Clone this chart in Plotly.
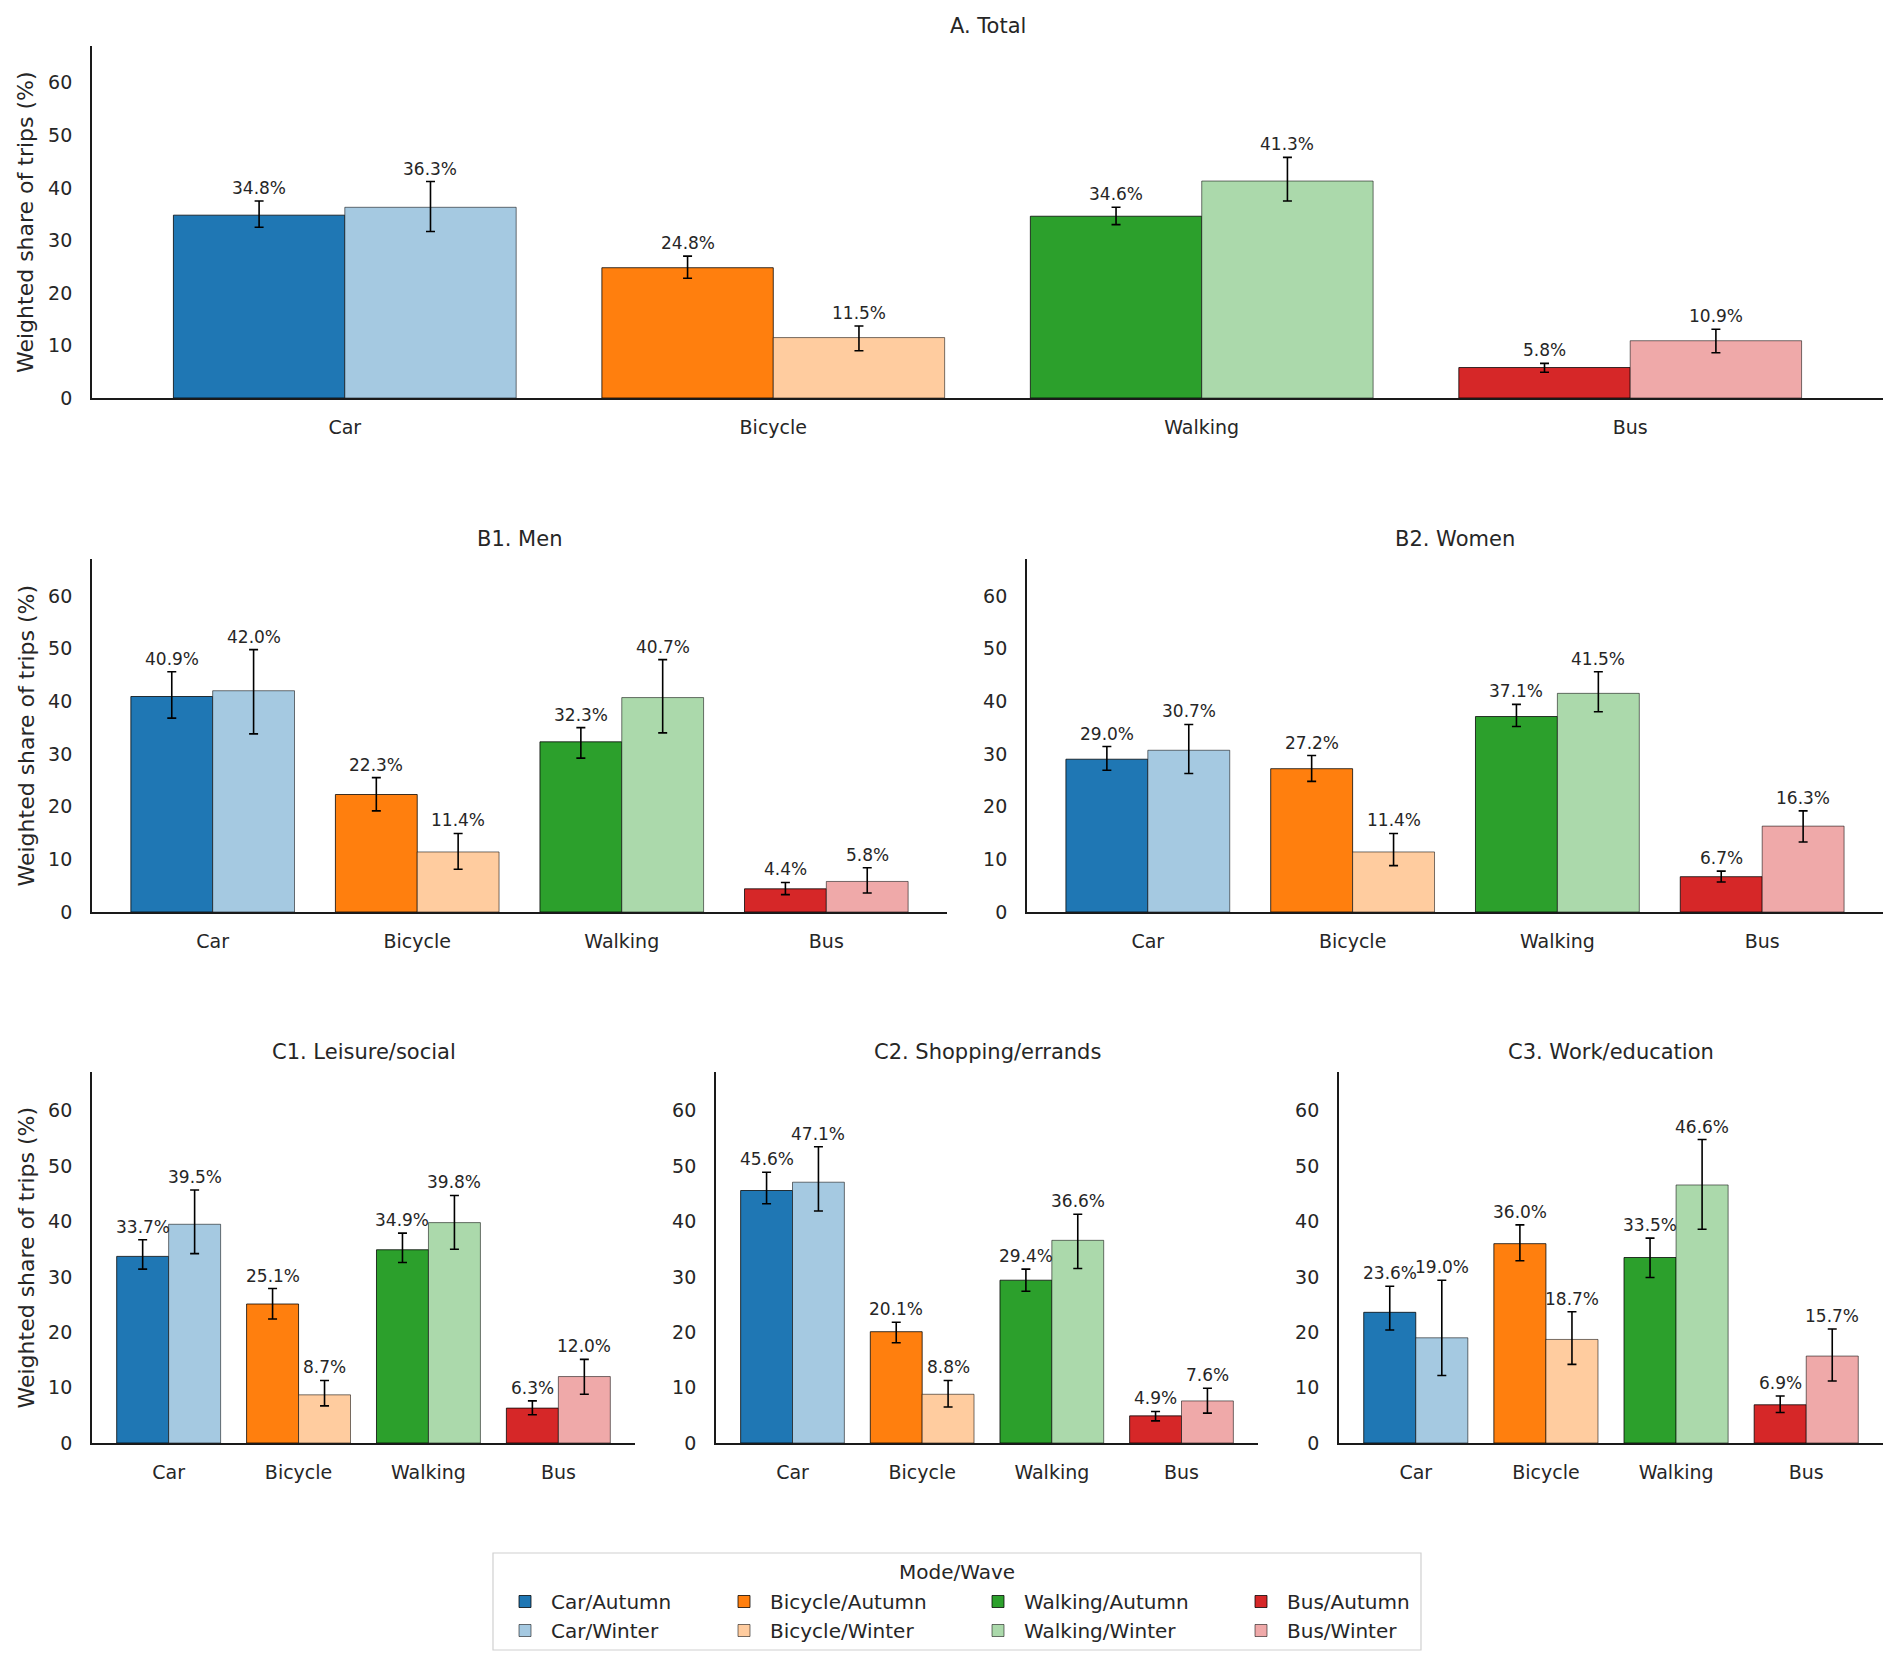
import plotly.graph_objects as go

# ---------------- data ----------------
MODES = ["Car", "Bicycle", "Walking", "Bus"]
WAVES = ["Autumn", "Winter"]
Y_TICKS = [0, 10, 20, 30, 40, 50, 60]
PANEL_TITLES = ["A. Total", "B1. Men", "B2. Women",
                "C1. Leisure/social", "C2. Shopping/errands", "C3. Work/education"]
Y_TITLE = "Weighted share of trips (%)"
LEGEND_TITLE = "Mode/Wave"

TOTAL_AUTUMN = [34.8, 24.8, 34.6, 5.8]
TOTAL_AUTUMN_LO = [32.5, 22.8, 33.0, 4.9]
TOTAL_AUTUMN_HI = [37.5, 27.0, 36.3, 6.6]
TOTAL_WINTER = [36.3, 11.5, 41.3, 10.9]
TOTAL_WINTER_LO = [31.7, 9.0, 37.5, 8.6]
TOTAL_WINTER_HI = [41.2, 13.7, 45.8, 13.1]

MEN_AUTUMN = [40.9, 22.3, 32.3, 4.4]
MEN_AUTUMN_LO = [36.8, 19.2, 29.2, 3.3]
MEN_AUTUMN_HI = [45.6, 25.5, 35.0, 5.6]
MEN_WINTER = [42.0, 11.4, 40.7, 5.8]
MEN_WINTER_LO = [33.8, 8.1, 34.0, 3.6]
MEN_WINTER_HI = [49.8, 14.9, 47.9, 8.4]

WOMEN_AUTUMN = [29.0, 27.2, 37.1, 6.7]
WOMEN_AUTUMN_LO = [26.9, 24.8, 35.2, 5.7]
WOMEN_AUTUMN_HI = [31.4, 29.7, 39.4, 7.75]
WOMEN_WINTER = [30.7, 11.4, 41.5, 16.3]
WOMEN_WINTER_LO = [26.3, 8.8, 38.0, 13.3]
WOMEN_WINTER_HI = [35.6, 14.9, 45.6, 19.2]

LEISURE_AUTUMN = [33.7, 25.1, 34.9, 6.3]
LEISURE_AUTUMN_LO = [31.4, 22.4, 32.6, 5.1]
LEISURE_AUTUMN_HI = [36.7, 27.9, 37.9, 7.6]
LEISURE_WINTER = [39.5, 8.7, 39.8, 12.0]
LEISURE_WINTER_LO = [34.2, 6.7, 35.0, 8.8]
LEISURE_WINTER_HI = [45.7, 11.3, 44.7, 15.1]

SHOPPING_AUTUMN = [45.6, 20.1, 29.4, 4.9]
SHOPPING_AUTUMN_LO = [43.2, 18.1, 27.4, 4.0]
SHOPPING_AUTUMN_HI = [48.9, 21.8, 31.4, 5.7]
SHOPPING_WINTER = [47.1, 8.8, 36.6, 7.6]
SHOPPING_WINTER_LO = [41.9, 6.5, 31.5, 5.4]
SHOPPING_WINTER_HI = [53.5, 11.3, 41.3, 9.9]

WORK_AUTUMN = [23.6, 36.0, 33.5, 6.9]
WORK_AUTUMN_LO = [20.4, 32.9, 29.9, 5.5]
WORK_AUTUMN_HI = [28.3, 39.4, 37.0, 8.5]
WORK_WINTER = [19.0, 18.7, 46.6, 15.7]
WORK_WINTER_LO = [12.2, 14.2, 38.6, 11.2]
WORK_WINTER_HI = [29.4, 23.7, 54.8, 20.6]

PANELS = [
    ((TOTAL_AUTUMN, TOTAL_AUTUMN_LO, TOTAL_AUTUMN_HI), (TOTAL_WINTER, TOTAL_WINTER_LO, TOTAL_WINTER_HI)),
    ((MEN_AUTUMN, MEN_AUTUMN_LO, MEN_AUTUMN_HI), (MEN_WINTER, MEN_WINTER_LO, MEN_WINTER_HI)),
    ((WOMEN_AUTUMN, WOMEN_AUTUMN_LO, WOMEN_AUTUMN_HI), (WOMEN_WINTER, WOMEN_WINTER_LO, WOMEN_WINTER_HI)),
    ((LEISURE_AUTUMN, LEISURE_AUTUMN_LO, LEISURE_AUTUMN_HI), (LEISURE_WINTER, LEISURE_WINTER_LO, LEISURE_WINTER_HI)),
    ((SHOPPING_AUTUMN, SHOPPING_AUTUMN_LO, SHOPPING_AUTUMN_HI), (SHOPPING_WINTER, SHOPPING_WINTER_LO, SHOPPING_WINTER_HI)),
    ((WORK_AUTUMN, WORK_AUTUMN_LO, WORK_AUTUMN_HI), (WORK_WINTER, WORK_WINTER_LO, WORK_WINTER_HI)),
]

# ---------------- styles / layout ----------------
W, H = 1897, 1667
FONT = "DejaVu Sans"
TXT = "#262626"
AXIS_LINE = "#1a1a1a"
COLORS = {
    ("Car", "Autumn"): "#1f77b4", ("Car", "Winter"): "#a5c9e1",
    ("Bicycle", "Autumn"): "#ff7f0e", ("Bicycle", "Winter"): "#ffcc9f",
    ("Walking", "Autumn"): "#2ca02c", ("Walking", "Winter"): "#abd9ab",
    ("Bus", "Autumn"): "#d62728", ("Bus", "Winter"): "#efa9a9",
}
EDGE = {"Autumn": "rgba(0,0,0,0.85)", "Winter": "rgba(0,0,0,0.6)"}
BAR_W = 0.4
OFFSETS = {"Autumn": -0.4, "Winter": 0.0}
# panel boxes in pixels: (left, right, top, bottom)
BOXES = [(92, 1883, 46, 398), (92, 947, 559, 912), (1027, 1883, 559, 912),
         (92, 635, 1072, 1443), (716, 1258, 1072, 1443), (1339, 1883, 1072, 1443)]
LEFT_PANELS = [0, 1, 3]
LEGEND_NAMES = {"Car": "legend", "Bicycle": "legend2", "Walking": "legend3", "Bus": "legend4"}
LEGEND_X = {"Car": 499, "Bicycle": 718, "Walking": 972, "Bus": 1235}
LEGEND_TOP = 1582
LEGEND_BOX = (493, 1421, 1553, 1650)


def px_x(v):
    return v / W


def px_y(v):
    return 1 - v / H


fig = go.Figure()
annotations = []
layout = {}

for k, (box, waves_data) in enumerate(zip(BOXES, PANELS)):
    s = "" if k == 0 else str(k + 1)
    xa, ya = "x" + s, "y" + s
    l, r, t, b = box
    for w, (vals, los, his) in zip(WAVES, waves_data):
        for i, mode in enumerate(MODES):
            v, lo, hi = vals[i], los[i], his[i]
            fig.add_trace(go.Bar(
                x=[i], y=[v], width=BAR_W, offset=OFFSETS[w],
                xaxis=xa, yaxis=ya,
                name=f"{mode}/{w}", legendgroup=f"{mode}/{w}",
                legend=LEGEND_NAMES[mode], showlegend=(k == 0),
                marker=dict(color=COLORS[(mode, w)], line=dict(color=EDGE[w], width=0.9)),
                error_y=dict(type="data", symmetric=False, array=[hi - v], arrayminus=[v - lo],
                             color="black", thickness=1.6, width=4.5),
                hovertemplate=f"{mode}/{w}: %{{y:.1f}}%<extra></extra>",
            ))
            annotations.append(dict(
                x=i + OFFSETS[w] + BAR_W / 2, y=hi, xref=xa, yref=ya,
                text=f"{v:.1f}%", showarrow=False, yanchor="bottom", yshift=1,
                font=dict(size=17, color=TXT, family=FONT),
            ))
    layout["xaxis" + s] = dict(
        domain=[px_x(l), px_x(r)], anchor=ya, range=[-0.59, 3.59],
        tickvals=list(range(len(MODES))), ticktext=MODES,
        showline=True, linecolor=AXIS_LINE, linewidth=1.8, ticks="",
        showgrid=False, zeroline=False, ticklabelstandoff=11, automargin=False,
        tickfont=dict(size=19, color=TXT, family=FONT), fixedrange=True,
    )
    layout["yaxis" + s] = dict(
        domain=[px_y(b), px_y(t)], anchor=xa, range=[0, 67], tickvals=Y_TICKS,
        showline=True, linecolor=AXIS_LINE, linewidth=1.8, ticks="",
        showgrid=False, zeroline=False, ticklabelstandoff=14, automargin=False,
        tickfont=dict(size=19, color=TXT, family=FONT), fixedrange=True,
    )
    annotations.append(dict(
        x=0.5, y=1, xref=f"{xa} domain", yref=f"{ya} domain", text=PANEL_TITLES[k],
        showarrow=False, yanchor="middle", yshift=20,
        font=dict(size=21, color=TXT, family=FONT),
    ))
    if k in LEFT_PANELS:
        annotations.append(dict(
            x=px_x(26), y=px_y((t + b) / 2), xref="paper", yref="paper", text=Y_TITLE,
            textangle=-90, showarrow=False, xanchor="center", yanchor="middle",
            font=dict(size=22, color=TXT, family=FONT),
        ))

# legend title
annotations.append(dict(
    x=px_x((LEGEND_BOX[0] + LEGEND_BOX[1]) / 2), y=px_y(1572), xref="paper", yref="paper",
    text=LEGEND_TITLE, showarrow=False, xanchor="center", yanchor="middle",
    font=dict(size=20, color=TXT, family=FONT),
))

for mode in MODES:
    layout[LEGEND_NAMES[mode]] = dict(
        x=px_x(LEGEND_X[mode]), y=px_y(LEGEND_TOP), xanchor="left", yanchor="top",
        orientation="v", bgcolor="rgba(0,0,0,0)", borderwidth=0, tracegroupgap=0,
        itemwidth=42, font=dict(size=20, color=TXT, family=FONT),
    )

fig.update_layout(
    width=W, height=H, margin=dict(l=0, r=0, t=0, b=0, autoexpand=False),
    paper_bgcolor="white", plot_bgcolor="white", barmode="overlay",
    font=dict(family=FONT, color=TXT),
    annotations=annotations,
    shapes=[dict(type="rect", xref="paper", yref="paper",
                 x0=px_x(LEGEND_BOX[0]), x1=px_x(LEGEND_BOX[1]),
                 y0=px_y(LEGEND_BOX[3]), y1=px_y(LEGEND_BOX[2]),
                 line=dict(color="#d0d0d0", width=1.2), fillcolor="rgba(0,0,0,0)")],
    **layout,
)

fig.write_html("out.html")
